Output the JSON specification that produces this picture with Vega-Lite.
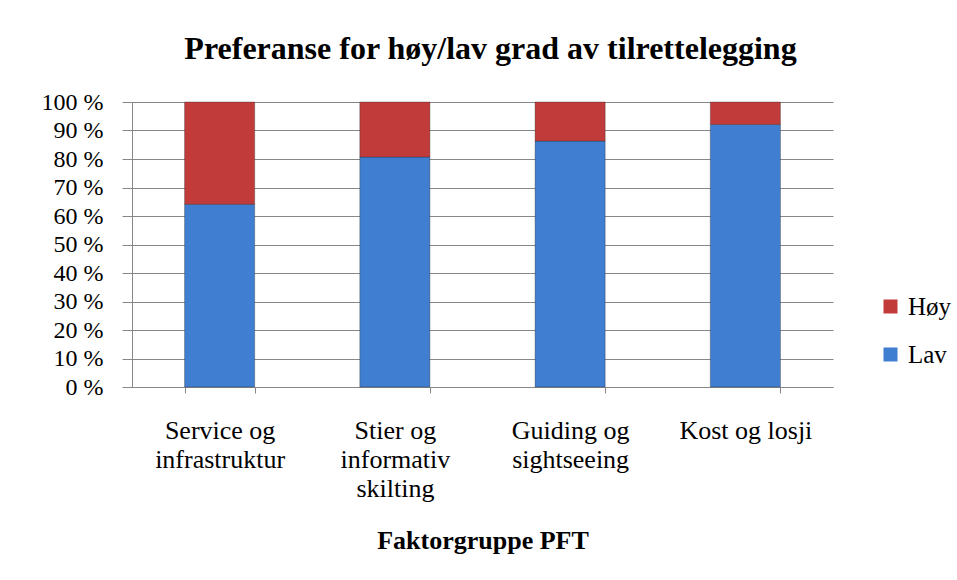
{
  "$schema": "https://vega.github.io/schema/vega-lite/v6.json",
  "width": 701,
  "height": 285,
  "autosize": "none",
  "padding": {"left": 132, "top": 102, "right": 124, "bottom": 193},
  "background": "white",
  "title": {
    "text": "Preferanse for høy/lav grad av tilrettelegging",
    "font": "Liberation Serif",
    "fontSize": 32,
    "fontWeight": "bold",
    "color": "black",
    "anchor": "middle",
    "offset": 24,
    "dx": 8
  },
  "data": {
    "values": [
      {"gruppe": "Service og infrastruktur", "grad": "Lav", "andel": 64.1, "rekke": 1},
      {"gruppe": "Service og infrastruktur", "grad": "Høy", "andel": 35.9, "rekke": 2},
      {"gruppe": "Stier og informativ skilting", "grad": "Lav", "andel": 80.7, "rekke": 1},
      {"gruppe": "Stier og informativ skilting", "grad": "Høy", "andel": 19.3, "rekke": 2},
      {"gruppe": "Guiding og sightseeing", "grad": "Lav", "andel": 86.3, "rekke": 1},
      {"gruppe": "Guiding og sightseeing", "grad": "Høy", "andel": 13.7, "rekke": 2},
      {"gruppe": "Kost og losji", "grad": "Lav", "andel": 92.1, "rekke": 1},
      {"gruppe": "Kost og losji", "grad": "Høy", "andel": 7.9, "rekke": 2}
    ]
  },
  "mark": {"type": "bar", "stroke": "#2a2a2a", "strokeOpacity": 0.35, "strokeWidth": 1},
  "encoding": {
    "x": {
      "field": "gruppe",
      "type": "nominal",
      "sort": ["Service og infrastruktur", "Stier og informativ skilting", "Guiding og sightseeing", "Kost og losji"],
      "scale": {"paddingInner": 0.6, "paddingOuter": 0.3},
      "axis": {
        "title": "Faktorgruppe PFT",
        "titleFont": "Liberation Serif",
        "titleFontSize": 26,
        "titleFontWeight": "bold",
        "titleColor": "black",
        "titlePadding": 26,
        "labelFont": "Liberation Serif",
        "labelFontSize": 26,
        "labelColor": "black",
        "labelAngle": 0,
        "labelBaseline": "alphabetic",
        "labelLineHeight": 29,
        "labelPadding": 45,
        "labelExpr": "datum.value == 'Service og infrastruktur' ? ['Service og', 'infrastruktur'] : datum.value == 'Stier og informativ skilting' ? ['Stier og', 'informativ', 'skilting'] : datum.value == 'Guiding og sightseeing' ? ['Guiding og', 'sightseeing'] : datum.value",
        "tickBand": "extent",
        "tickSize": 6,
        "tickColor": "#878787",
        "domainColor": "#878787",
        "grid": false
      }
    },
    "y": {
      "field": "andel",
      "type": "quantitative",
      "stack": "zero",
      "scale": {"domain": [0, 100]},
      "axis": {
        "title": null,
        "values": [0, 10, 20, 30, 40, 50, 60, 70, 80, 90, 100],
        "labelExpr": "datum.value + ' %'",
        "labelFont": "Liberation Serif",
        "labelFontSize": 24,
        "labelColor": "black",
        "labelPadding": 19,
        "tickSize": 10,
        "tickColor": "#878787",
        "domainColor": "#878787",
        "grid": true,
        "gridColor": "#878787",
        "gridWidth": 1
      }
    },
    "color": {
      "field": "grad",
      "type": "nominal",
      "scale": {"domain": ["Høy", "Lav"], "range": ["#c13b3b", "#3f7ed0"]},
      "legend": {
        "title": null,
        "orient": "none",
        "legendX": 746,
        "legendY": 192,
        "symbolType": "square",
        "symbolSize": 196,
        "symbolStrokeWidth": 0,
        "labelFont": "Liberation Serif",
        "labelFontSize": 25,
        "labelColor": "black",
        "labelOffset": 5,
        "rowPadding": 22
      }
    },
    "order": {"field": "rekke", "type": "quantitative"}
  },
  "config": {"view": {"stroke": null}}
}
